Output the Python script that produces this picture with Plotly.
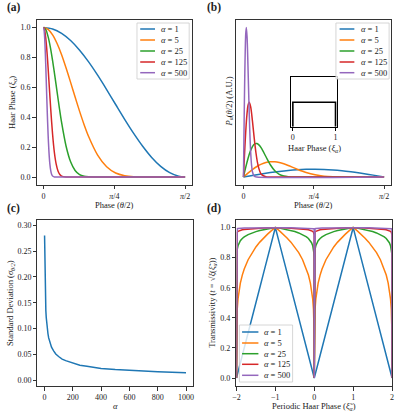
import plotly.graph_objects as go

W, H = 399, 414
FONT = "Liberation Serif"
AXC = "#333333"
COLORS = ["#1f77b4", "#ff7f0e", "#2ca02c", "#d62728", "#9467bd"]
ALPHAS = [1, 5, 25, 125, 500]

# ---- (a) Haar phase and (b) phase distribution, per alpha ----
theta_1 = [0, 0.1, 0.2, 0.3, 0.4, 0.5, 0.6, 0.7, 0.8, 0.9, 1.0, 1.1, 1.2, 1.3, 1.4, 1.5, 1.5708]
xi_1 = [1, 0.990, 0.961, 0.913, 0.848, 0.770, 0.681, 0.585, 0.485, 0.386, 0.292, 0.206, 0.131, 0.071, 0.029, 0.005, 0]
pdf_1 = [0, 0.199, 0.389, 0.565, 0.717, 0.841, 0.932, 0.985, 1.000, 0.974, 0.909, 0.809, 0.675, 0.516, 0.335, 0.141, 0]

theta_5 = [0, 0.05, 0.1, 0.15, 0.2, 0.25, 0.3, 0.35, 0.4, 0.45, 0.5, 0.6, 0.7, 0.8, 0.9, 1.0, 1.1, 1.2, 1.3, 1.5708]
xi_5 = [1, 0.988, 0.951, 0.893, 0.818, 0.729, 0.633, 0.535, 0.439, 0.350, 0.271, 0.147, 0.069, 0.027, 0.009, 0.002, 0.0004, 0, 0, 0]
pdf_5 = [0, 0.494, 0.954, 1.350, 1.657, 1.862, 1.959, 1.953, 1.858, 1.693, 1.481, 1.004, 0.577, 0.278, 0.109, 0.033, 0.007, 0.001, 0, 0]

theta_25 = [0, 0.025, 0.05, 0.075, 0.1, 0.125, 0.15, 0.175, 0.2, 0.25, 0.3, 0.35, 0.4, 0.45, 0.5, 0.6, 0.7, 1.5708]
xi_25 = [1, 0.985, 0.939, 0.869, 0.778, 0.676, 0.569, 0.463, 0.365, 0.206, 0.102, 0.044, 0.016, 0.005, 0.0015, 0.0001, 0, 0]
pdf_25 = [0, 1.231, 2.349, 3.264, 3.905, 4.247, 4.297, 4.095, 3.703, 2.632, 1.575, 0.799, 0.346, 0.128, 0.040, 0.002, 0, 0]

theta_125 = [0, 0.01, 0.02, 0.03, 0.04, 0.05, 0.0634, 0.08, 0.1, 0.12, 0.14, 0.16, 0.18, 0.2, 0.25, 0.3, 1.5708]
xi_125 = [1, 0.988, 0.951, 0.894, 0.819, 0.732, 0.605, 0.449, 0.286, 0.164, 0.086, 0.040, 0.017, 0.0065, 0.0004, 0, 0]
pdf_125 = [0, 2.469, 4.757, 6.705, 8.19, 9.157, 9.59, 9.02, 7.20, 4.99, 3.05, 1.65, 0.80, 0.34, 0.026, 0, 0]

theta_500 = [0, 0.005, 0.01, 0.015, 0.02, 0.025, 0.0316, 0.04, 0.05, 0.06, 0.07, 0.08, 0.09, 0.1, 0.12, 0.15, 1.5708]
xi_500 = [1, 0.988, 0.951, 0.894, 0.819, 0.732, 0.607, 0.449, 0.287, 0.165, 0.086, 0.041, 0.017, 0.0067, 0.0008, 0, 0]
pdf_500 = [0, 4.938, 9.51, 13.41, 16.38, 18.30, 19.18, 17.99, 14.34, 9.94, 6.06, 3.27, 1.57, 0.68, 0.09, 0.002, 0]

# inset: uniform Haar phase density
haar_x = [0, 0, 1, 1]
haar_density = [0, 1, 1, 0]

# ---- (c) standard deviation vs alpha ----
alpha_c = [1, 2, 3, 4, 6, 8, 10, 13, 16, 20, 25, 30, 40, 50, 65, 80, 100, 125, 150, 200,
           250, 300, 400, 500, 600, 700, 800, 900, 1000]
sigma_c = [0.280, 0.241, 0.214, 0.194, 0.167, 0.149, 0.135, 0.121, 0.110, 0.099, 0.090, 0.082,
           0.072, 0.064, 0.057, 0.051, 0.046, 0.041, 0.038, 0.033, 0.029, 0.027, 0.023, 0.0207,
           0.0189, 0.0175, 0.0164, 0.0154, 0.0146]

# ---- (d) transmissivity over one half period (Haar phase 0 -> 1) ----
xi_half = [0, 0.002, 0.005, 0.01, 0.02, 0.04, 0.07, 0.1, 0.15, 0.2, 0.3, 0.4, 0.5, 0.6, 0.7, 0.8, 0.9, 1.0]
t_1 = [0, 0.002, 0.005, 0.01, 0.02, 0.04, 0.07, 0.1, 0.15, 0.2, 0.3, 0.4, 0.5, 0.6, 0.7, 0.8, 0.9, 1.0]
t_5 = [0, 0.289, 0.347, 0.398, 0.457, 0.525, 0.588, 0.631, 0.684, 0.725, 0.786, 0.833, 0.871, 0.903, 0.931, 0.956, 0.979, 1.0]
t_25 = [0, 0.780, 0.809, 0.832, 0.855, 0.879, 0.899, 0.912, 0.927, 0.938, 0.953, 0.964, 0.973, 0.980, 0.986, 0.991, 0.996, 1.0]
t_125 = [0, 0.952, 0.959, 0.964, 0.969, 0.975, 0.979, 0.982, 0.985, 0.987, 0.990, 0.993, 0.9945, 0.996, 0.997, 0.998, 0.999, 1.0]
t_500 = [0, 0.9876, 0.9895, 0.9908, 0.9922, 0.9936, 0.9947, 0.9954, 0.9962, 0.9968, 0.9976, 0.9982, 0.9986, 0.999, 0.9993, 0.9996, 0.9998, 1.0]


def periodic(xs, ys):
    # unfold the half period onto -2..2 (triangle-wave Haar phase)
    px, py = [], []
    px += [-2 + v for v in xs]; py += list(ys)
    px += [-v for v in xs[::-1]]; py += list(ys[::-1])
    px += list(xs); py += list(ys)
    px += [2 - v for v in xs[::-1]]; py += list(ys[::-1])
    return px, py


def fx(x):
    return x / W


def fy(y):
    return 1 - y / H


fig = go.Figure()

series_ab = [(theta_1, xi_1, pdf_1), (theta_5, xi_5, pdf_5), (theta_25, xi_25, pdf_25),
             (theta_125, xi_125, pdf_125), (theta_500, xi_500, pdf_500)]
for (th, xi, pdf), c in zip(series_ab, COLORS):
    fig.add_trace(go.Scatter(x=th, y=xi, mode="lines", xaxis="x", yaxis="y",
                             line=dict(color=c, width=1.5, shape="spline", smoothing=0.8),
                             showlegend=False))
for (th, xi, pdf), c in zip(series_ab, COLORS):
    fig.add_trace(go.Scatter(x=th, y=pdf, mode="lines", xaxis="x2", yaxis="y2",
                             line=dict(color=c, width=1.5, shape="spline", smoothing=0.8),
                             showlegend=False))

fig.add_trace(go.Scatter(x=haar_x, y=haar_density, mode="lines", xaxis="x5", yaxis="y5",
                         line=dict(color="black", width=1.6), showlegend=False))

fig.add_trace(go.Scatter(x=alpha_c, y=sigma_c, mode="lines", xaxis="x3", yaxis="y3",
                         line=dict(color=COLORS[0], width=1.5), showlegend=False))

for t, c in zip([t_1, t_5, t_25, t_125, t_500], COLORS):
    xx, yy = periodic(xi_half, t)
    fig.add_trace(go.Scatter(x=xx, y=yy, mode="lines", xaxis="x4", yaxis="y4",
                             line=dict(color=c, width=1.5), showlegend=False))

FS = 8
TS = 8.5
tick_font = dict(family=FONT, size=FS, color="#222")


def ax(**kw):
    d = dict(showline=True, mirror=True, linecolor=AXC, linewidth=1, ticks="outside",
             ticklen=3.5, tickwidth=0.8, tickcolor=AXC, showgrid=False, zeroline=False,
             tickfont=tick_font)
    d.update(kw)
    return d


pi_vals = [0, 0.7854, 1.5708]
pi_text = ["0", "<i>π</i>/4", "<i>π</i>/2"]

fig.update_layout(
    width=W, height=H, margin=dict(l=0, r=0, t=0, b=0),
    paper_bgcolor="white", plot_bgcolor="white",
    font=dict(family=FONT, size=FS, color="#222"),
    xaxis=ax(domain=[fx(33), fx(191)], range=[-0.0785, 1.649], tickvals=pi_vals, ticktext=pi_text, anchor="y"),
    yaxis=ax(domain=[fy(184.5), fy(20)], range=[-0.05, 1.05], dtick=0.2, tickformat=".1f", anchor="x"),
    xaxis2=ax(domain=[fx(236), fx(393)], range=[-0.0785, 1.649], tickvals=pi_vals, ticktext=pi_text, anchor="y2"),
    yaxis2=ax(domain=[fy(184.5), fy(20)], range=[-0.96, 20.14], showticklabels=False, ticks="", anchor="x2"),
    xaxis3=ax(domain=[fx(34), fx(192)], range=[-49, 1050], dtick=200, anchor="y3"),
    yaxis3=ax(domain=[fy(386), fy(220)], range=[-0.011, 0.31], dtick=0.05, tickformat=".2f", anchor="x3"),
    xaxis4=ax(domain=[fx(236), fx(394)], range=[-2, 2], dtick=1, anchor="y4"),
    yaxis4=ax(domain=[fy(386), fy(220)], range=[-0.053, 1.05], dtick=0.2, tickformat=".1f", anchor="x4"),
    xaxis5=ax(domain=[fx(291.3), fx(338.3)], range=[-0.045, 1.04], tickvals=[0, 1], anchor="y5",
              linecolor="black", tickcolor="black", ticklen=3),
    yaxis5=ax(domain=[fy(126.7), fy(77.3)], range=[0, 2.02], showticklabels=False, ticks="", anchor="x5",
              linecolor="black"),
)

ann = []


def label(text, x, y, angle=0, size=TS, **kw):
    ann.append(dict(text=text, x=fx(x), y=fy(y), xref="paper", yref="paper", showarrow=False,
                    textangle=angle, xanchor="center", yanchor="middle",
                    font=dict(family=FONT, size=size, color="#222"), **kw))


# panel letters
label("<b>(a)</b>", 10, 8, size=11.5)
label("<b>(b)</b>", 213, 8, size=11.5)
label("<b>(c)</b>", 10, 208, size=11.5)
label("<b>(d)</b>", 213, 208, size=11.5)

# axis titles
label("Haar Phase (<i>ξ<sub>α</sub></i>)", 8, 102, angle=-90)
label("Phase (<i>θ</i>/2)", 112, 205)
label("<i>P<sub>α</sub></i>(<i>θ</i>/2) (A.U.)", 228, 102, angle=-90)
label("Phase (<i>θ</i>/2)", 314.5, 205)
label("Haar Phase (<i>ξ<sub>α</sub></i>)", 315, 148.5)
label("Standard Deviation (<i>σ<sub>θ/2</sub></i>)", 6, 303, angle=-90)
label("<i>α</i>", 113, 406)
label("Transmissivity (<i>t</i> = √<i>ξ</i>(<i>ξ̃<sub>α</sub></i>))", 211, 303, angle=-90)
label("Periodic Haar Phase (<i>ξ̃<sub>α</sub></i>)", 315, 406)

shapes = []


def key(box, rows, line_x, text_x):
    x0, y0, x1, y1 = box
    shapes.append(dict(type="rect", xref="paper", yref="paper", x0=fx(x0), x1=fx(x1), y0=fy(y1), y1=fy(y0),
                       line=dict(color="#cccccc", width=0.8), fillcolor="rgba(255,255,255,0.8)"))
    for a, c, r in zip(ALPHAS, COLORS, rows):
        shapes.append(dict(type="line", xref="paper", yref="paper", x0=fx(line_x[0]), x1=fx(line_x[1]),
                           y0=fy(r), y1=fy(r), line=dict(color=c, width=1.5)))
        ann.append(dict(text=f"<i>α</i> = {a}", x=fx(text_x), y=fy(r), xref="paper", yref="paper",
                        showarrow=False, xanchor="left", yanchor="middle",
                        font=dict(family=FONT, size=8.5, color="#222")))


rows_top = [29, 40, 51, 62, 72.7]
key((135, 23, 188, 79), rows_top, (138.3, 153.3), 157)
key((337, 23, 391, 79), rows_top, (340.7, 355.7), 360.7)
key((239, 325, 293, 382), [332, 343, 353.7, 364.3, 375.3], (241.7, 258.3), 262.3)

fig.update_layout(annotations=ann, shapes=shapes)

fig.write_html("out.html", config={"displayModeBar": False},
               post_script="document.body.style.margin='0';")
